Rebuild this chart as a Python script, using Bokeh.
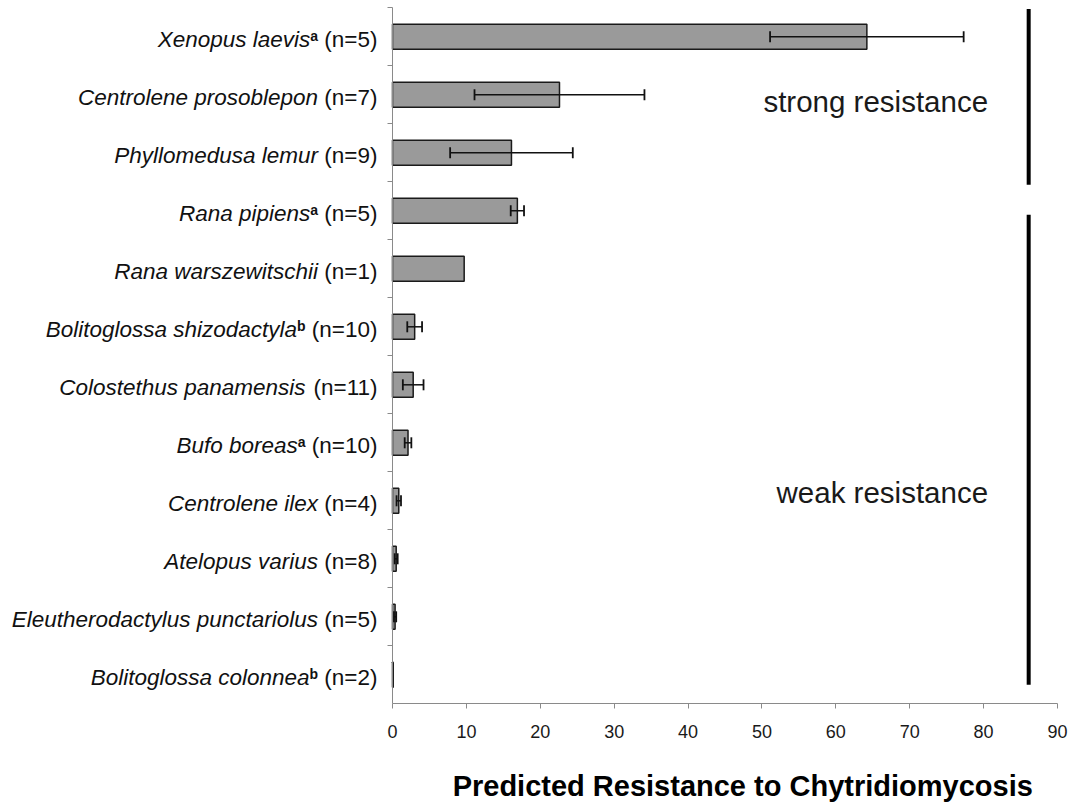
from bokeh.plotting import figure
from bokeh.models import ColumnDataSource, Range1d, FixedTicker, LinearAxis
from bokeh.core.properties import value
from bokeh.embed import file_html
from bokeh.resources import INLINE

# ---------------- data (top to bottom as drawn) ----------------
species = ["Xenopus laevis", "Centrolene prosoblepon", "Phyllomedusa lemur",
           "Rana pipiens", "Rana warszewitschii", "Bolitoglossa shizodactyla",
           "Colostethus panamensis", "Bufo boreas", "Centrolene ilex",
           "Atelopus varius", "Eleutherodactylus punctariolus", "Bolitoglossa colonnea"]
notes = ["a", "", "", "a", "", "b", "", "a", "", "", "", "b"]
n_sizes = [5, 7, 9, 5, 1, 10, 11, 10, 4, 8, 5, 2]
resistance = [64.2, 22.6, 16.1, 16.9, 9.7, 3.0, 2.8, 2.1, 0.85, 0.5, 0.35, 0.1]
std_err = [13.1, 11.5, 8.3, 0.9, 0.0, 1.0, 1.4, 0.45, 0.3, 0.2, 0.15, 0.0]
x_ticks = [0, 10, 20, 30, 40, 50, 60, 70, 80, 90]
x_title = "Predicted Resistance to Chytridiomycosis"
group_names = ["strong resistance", "weak resistance"]
group_first = ["Xenopus laevis", "Rana pipiens"]
group_last = ["Phyllomedusa lemur", "Bolitoglossa colonnea"]

# ---------------- styles / layout ----------------
W, H = 1078, 806
AXIS_LEFT_PX = 392.0      # canvas px of x = 0
AXIS_TOP_PX = 7.3         # canvas px of the top of the category axis
PX_PER_X = 665.0 / 90.0   # px per x unit
PX_PER_CAT = 58.0         # px per category
X_START = -AXIS_LEFT_PX / PX_PER_X
X_END = X_START + W / PX_PER_X

FONT = "Liberation Sans"
LBL_SIZE = 22.5
SUP_SIZE = 14.0
LBL_GAP = 15.0           # px between label end and axis
BASE_DROP = 3.0          # px label anchor below category centre
SUP_RAISE = 4.3          # px superscript anchor raise
bracket_x = 86.1
bracket_pad_top = [0.02, 0.57]
bracket_pad_bottom = [-0.05, 0.33]
group_text_x = 80.6
group_text_y = [10.39, 3.65]
title_pos = (47.4, -1.42)
GREY_AXIS = "#8a8a8a"

# Arial / Liberation Sans advance widths (1/1000 em)
W_REG = {" ": 278, "(": 333, ")": 333, "=": 584, "n": 556}
for d in "0123456789":
    W_REG[d] = 556
W_BOLD = {"a": 556, "b": 611}


def width(s, size, table):
    return sum(table[c] for c in s) * size / 1000.0


count = len(species)
Y_END = count + AXIS_TOP_PX / PX_PER_CAT
Y_START = Y_END - H / PX_PER_CAT
ypos = [count - 1 - i + 0.5 for i in range(count)]
n_text = ["(n=%d)" % n for n in n_sizes]

off_n, off_sup, off_sp = [], [], []
for nt, note in zip(n_text, notes):
    o_n = -LBL_GAP
    o_sup = o_n - width(nt, LBL_SIZE, W_REG) - width(" ", LBL_SIZE, W_REG)
    o_sp = o_sup - (width(note, SUP_SIZE, W_BOLD) if note else 0)
    off_n.append(o_n)
    off_sup.append(o_sup)
    off_sp.append(o_sp)

y_main = [y - BASE_DROP / PX_PER_CAT for y in ypos]
y_sup = [y + SUP_RAISE / PX_PER_CAT for y in y_main]

lab_src = ColumnDataSource(dict(x0=[0] * count, y_main=y_main, y_sup=y_sup,
                                species=species, notes=notes, n_text=n_text,
                                off_n=off_n, off_sup=off_sup, off_sp=off_sp))

bar_src = ColumnDataSource(dict(y=ypos, val=resistance, species=species))

err_idx = [i for i in range(count) if std_err[i] > 0]
cap_h = 5.5 / PX_PER_CAT
err_src = ColumnDataSource(dict(
    y=[ypos[i] for i in err_idx],
    lo=[resistance[i] - std_err[i] for i in err_idx],
    hi=[resistance[i] + std_err[i] for i in err_idx],
    y0=[ypos[i] - cap_h for i in err_idx],
    y1=[ypos[i] + cap_h for i in err_idx],
))

p = figure(width=W, height=H, output_backend="svg", toolbar_location=None,
           x_range=Range1d(X_START, X_END), y_range=Range1d(Y_START, Y_END),
           x_axis_location=None, y_axis_location=None, min_border=0)
p.outline_line_color = None
p.background_fill_color = "white"
p.border_fill_color = "white"
for g in p.grid:
    g.visible = False

# axes placed at the data origin
xaxis = LinearAxis(fixed_location=0, bounds=(0, 90), ticker=FixedTicker(ticks=x_ticks))
xaxis.axis_line_color = GREY_AXIS
xaxis.major_tick_line_color = GREY_AXIS
xaxis.major_tick_in = 0
xaxis.major_tick_out = 5
xaxis.minor_tick_line_color = None
xaxis.major_label_standoff = 16
xaxis.major_label_text_font = FONT
xaxis.major_label_text_font_size = "18px"
xaxis.major_label_text_color = "#1a1a1a"
p.add_layout(xaxis, "below")

yaxis = LinearAxis(fixed_location=0, bounds=(0, count),
                   ticker=FixedTicker(ticks=[], minor_ticks=list(range(1, count + 1))))
yaxis.axis_line_color = GREY_AXIS
yaxis.minor_tick_line_color = GREY_AXIS
yaxis.minor_tick_in = 0
yaxis.minor_tick_out = 5
yaxis.major_tick_line_color = None
yaxis.major_label_text_font_size = "0px"
p.add_layout(yaxis, "left")

# bars
p.hbar(y="y", left=0, right="val", height=0.43, source=bar_src,
       fill_color="#9a9a9a", line_color="#1a1a1a", line_width=1.5)

# error bars
p.segment(x0="lo", y0="y", x1="hi", y1="y", source=err_src,
          line_color="#111111", line_width=1.5)
p.segment(x0="lo", y0="y0", x1="lo", y1="y1", source=err_src,
          line_color="#111111", line_width=1.8)
p.segment(x0="hi", y0="y0", x1="hi", y1="y1", source=err_src,
          line_color="#111111", line_width=1.8)

# resistance group brackets
idx_of = {s: i for i, s in enumerate(species)}
gy0, gy1 = [], []
for k in range(len(group_names)):
    top = ypos[idx_of[group_first[k]]] + 0.5 - bracket_pad_top[k]
    bot = ypos[idx_of[group_last[k]]] - 0.5 + bracket_pad_bottom[k]
    gy0.append(bot)
    gy1.append(top)
p.segment(x0=[bracket_x] * 2, y0=gy0, x1=[bracket_x] * 2, y1=gy1,
          line_color="black", line_width=4)
p.text(x=[group_text_x] * 2, y=group_text_y, text=group_names,
       text_align="right", text_baseline="alphabetic",
       text_font=value(FONT), text_font_size="29.5px", text_color="#1a1a1a")

# category labels: italic name, bold superscript note, sample size
p.text(x="x0", y="y_main", text="species", x_offset="off_sp", source=lab_src,
       text_align="right", text_baseline="alphabetic", text_font=value(FONT),
       text_font_style="italic", text_font_size="%.1fpx" % LBL_SIZE,
       text_color="#111111")
p.text(x="x0", y="y_sup", text="notes", x_offset="off_sup", source=lab_src,
       text_align="right", text_baseline="alphabetic", text_font=value(FONT),
       text_font_style="bold", text_font_size="%.1fpx" % SUP_SIZE,
       text_color="#111111")
p.text(x="x0", y="y_main", text="n_text", x_offset="off_n", source=lab_src,
       text_align="right", text_baseline="alphabetic", text_font=value(FONT),
       text_font_style="normal", text_font_size="%.1fpx" % LBL_SIZE,
       text_color="#111111")

# x title
p.text(x=[title_pos[0]], y=[title_pos[1]], text=[x_title],
       text_align="center", text_baseline="alphabetic", text_font=value(FONT),
       text_font_style="bold", text_font_size="29px", text_color="black")

open("out.html", "w").write(file_html(p, INLINE))
